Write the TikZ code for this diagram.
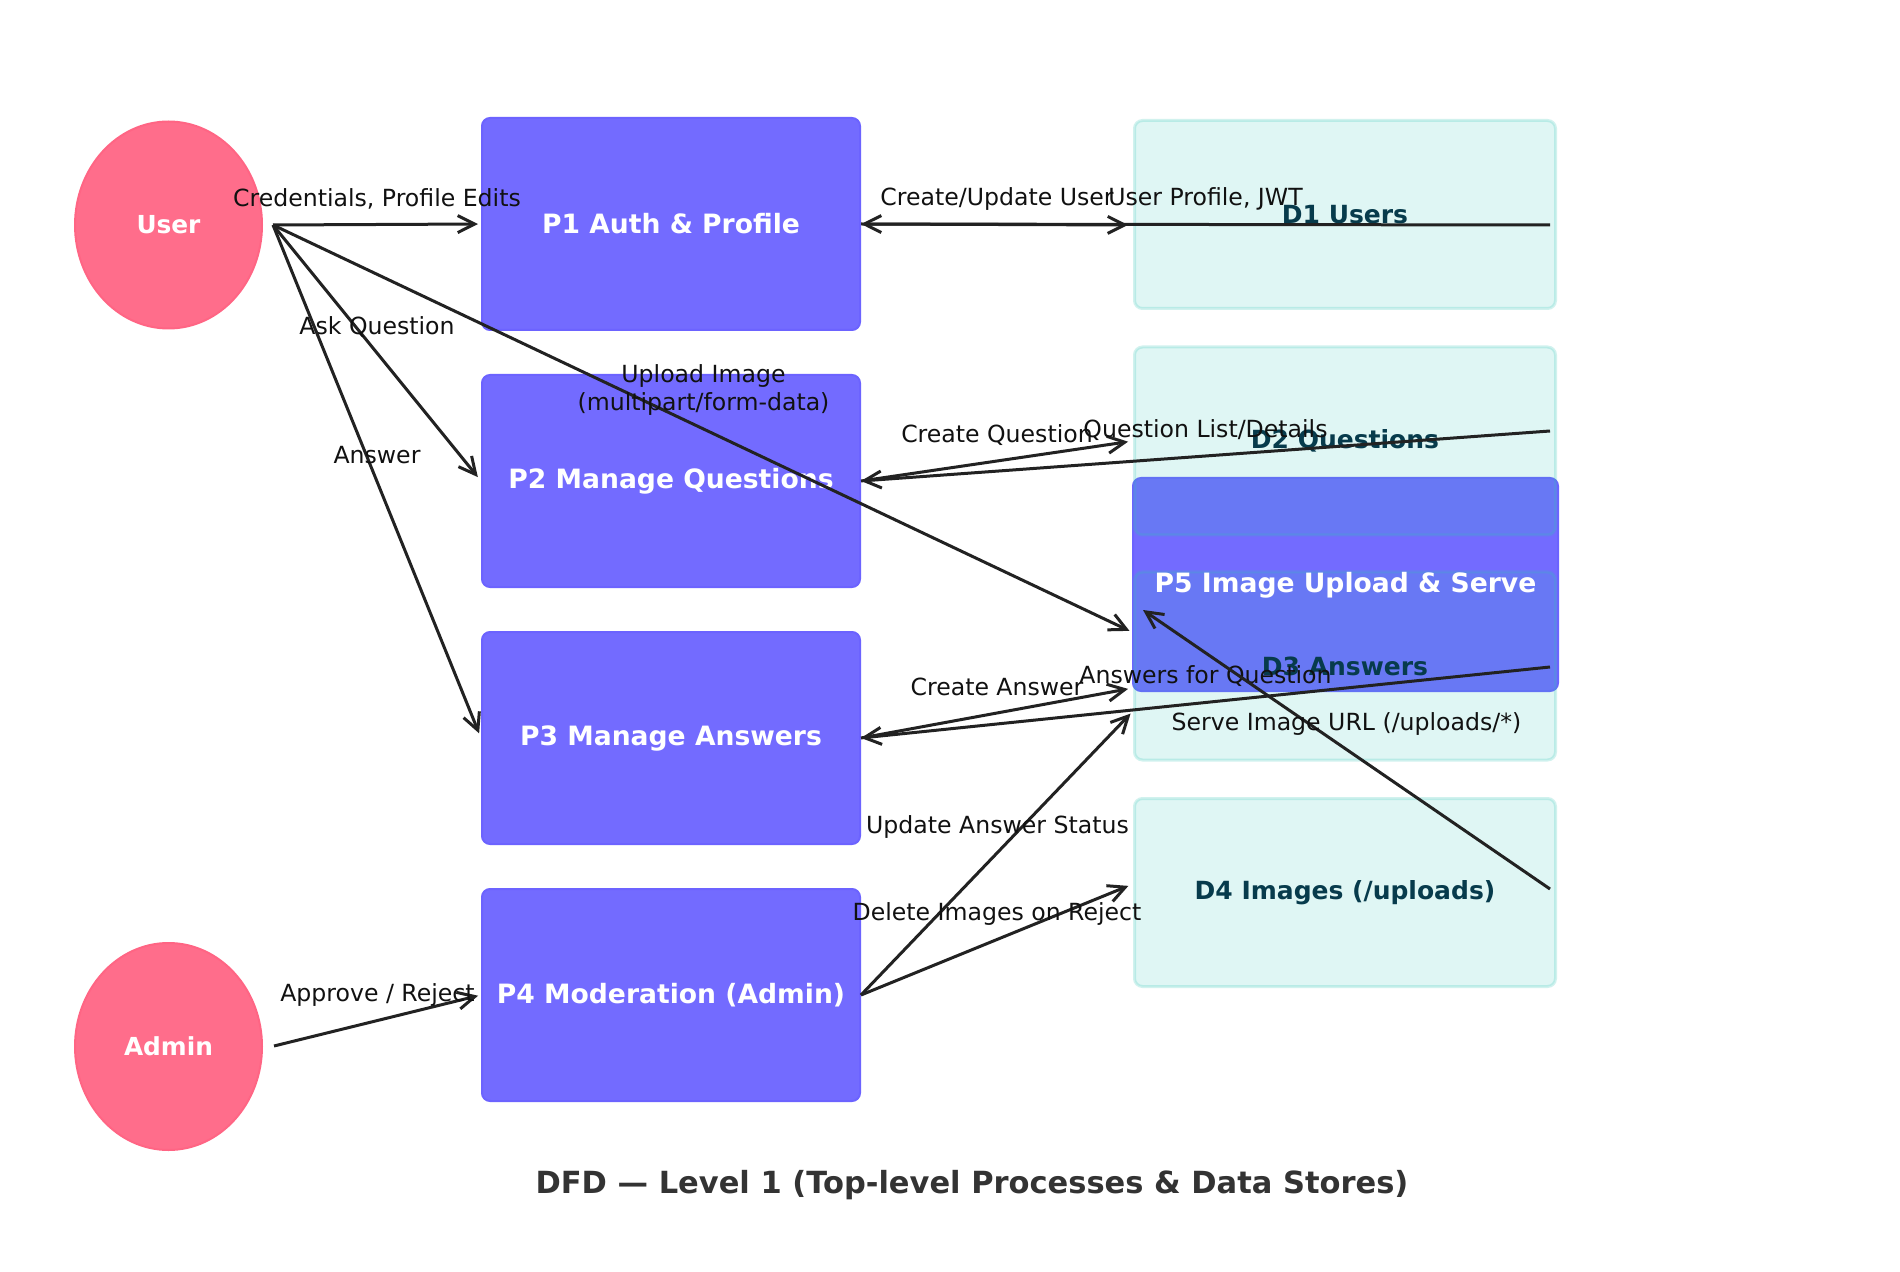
\documentclass[tikz,border=0pt]{standalone}
\usepackage{fontspec}
\setmainfont{DejaVu Sans}
\usetikzlibrary{arrows.meta,shapes.geometric,calc}
\definecolor{proc}{HTML}{736BFF}
\definecolor{procedge}{HTML}{6C63FF}
\definecolor{ent}{HTML}{FF6D8B}
\definecolor{entedge}{HTML}{FF6584}
\definecolor{store}{HTML}{2EC4B6}
\definecolor{storetext}{HTML}{073B4C}
\definecolor{flowc}{HTML}{222222}
\definecolor{labelc}{HTML}{111111}
\definecolor{titlec}{HTML}{333333}
\begin{document}
\begin{tikzpicture}[x=0.5pt,y=-0.5pt,
  entity/.style={ellipse, fill=ent, draw=entedge, line width=1pt, minimum width=93.5pt, minimum height=103.5pt, inner sep=0pt, text=white, font=\fontsize{12.4}{15}\selectfont\bfseries},
  procbox/.style={rectangle, rounded corners=4pt, fill=proc, draw=procedge, line width=1pt, minimum width=189pt, minimum height=106pt, inner sep=0pt, text=white, font=\fontsize{13.3}{16}\selectfont\bfseries},
  p5box/.style={procbox, minimum width=212.5pt, minimum height=106.5pt},
  p5text/.style={text=white, font=\fontsize{13.3}{16}\selectfont\bfseries, inner sep=0pt},
  storebox/.style={rectangle, rounded corners=4pt, fill=store, fill opacity=0.15, text opacity=1, draw=store, draw opacity=0.22, line width=1.5pt, minimum width=210.5pt, minimum height=94pt, inner sep=0pt, text=storetext, font=\fontsize{12.5}{15}\selectfont\bfseries},
  flow/.style={draw=flowc, line width=1.5pt, -{Straight Barb[length=8.5pt,width=8.5pt]}},
  lbl/.style={midway, yshift=13pt, inner sep=0pt, text=labelc, font=\fontsize{11.8}{14}\selectfont},
  lbltwo/.style={midway, yshift=19.5pt, inner sep=0pt, align=center, text=labelc, font=\fontsize{11.8}{14}\selectfont},
  titlestyle/.style={inner sep=0pt, text=titlec, font=\fontsize{15.25}{18}\selectfont\bfseries}
]
\useasboundingbox (0,0) rectangle (1900,1272);
\fill[white] (0,0) rectangle (1900,1272);

% external entities
\node[entity] (user) at (168.5,225) {User};
\node[entity] (admin) at (168.5,1046.5) {Admin};

% processes
\node[procbox] (p1) at (671,224) {P1 Auth \& Profile};
\node[procbox] (p2) at (671,481) {P2 Manage Questions};
\node[procbox] (p3) at (671,738) {P3 Manage Answers};
\node[procbox] (p4) at (671,995) {P4 Moderation (Admin)};
\node[p5box] (p5) at (1345.5,584.5) {};

% data stores
\node[storebox] (d1) at (1345,214.5) {D1 Users};
\node[storebox] (d2) at (1345,441) {D2 Questions};
\node[storebox] (d3) at (1345,666) {D3 Answers};
\node[storebox] (d4) at (1345,892.5) {D4 Images (/uploads)};
\node[p5text] (p5label) at ([yshift=-0.5pt]p5.center) {P5 Image Upload \& Serve};

% connector end points
\coordinate (uo) at (273,225);
\coordinate (ao) at (274,1046);
\coordinate (p5a) at (1134,633);
\coordinate (p5b) at (1143,610);
\coordinate (d1a) at (1133,225);
\coordinate (d1b) at (1550,225);
\coordinate (d2b) at (1550,431);
\coordinate (d3a) at (1133,688);
\coordinate (d3b) at (1550,667);
\coordinate (d3c) at (1134,710);
\coordinate (d4a) at (1133,884);
\coordinate (d4b) at (1550,889);

% flows
\draw[flow, shorten >=1.5pt] (uo) -- node[lbl]{Credentials, Profile Edits} (p1.west);
\draw[flow, shorten >=2.5pt] (uo) -- node[lbl]{Ask Question} (p2.west);
\draw[flow, shorten >=2.5pt] (uo) -- node[lbl]{Answer} (p3.west);
\draw[flow, shorten >=2.5pt] (uo) -- node[lbltwo]{Upload Image\\(multipart/form-data)} (p5a);
\draw[flow, shorten >=2.5pt] (p1.east) -- node[lbl]{Create/Update User} (d1a);
\draw[flow] (d1b) -- node[lbl]{User Profile, JWT} (p1.east);
\draw[flow, shorten >=2.5pt] (p2.east) -- node[lbl]{Create Question} (d2.west);
\draw[flow] (d2b) -- node[lbl]{Question List/Details} (p2.east);
\draw[flow, shorten >=2.5pt] (p3.east) -- node[lbl]{Create Answer} (d3a);
\draw[flow] (d3b) -- node[lbl]{Answers for Question} (p3.east);
\draw[flow, shorten >=2.5pt] (p4.east) -- node[lbl]{Update Answer Status} (d3c);
\draw[flow, shorten >=2.5pt] (p4.east) -- node[lbl]{Delete Images on Reject} (d4a);
\draw[flow] (d4b) -- node[lbl]{Serve Image URL (/uploads/*)} (p5b);
\draw[flow, shorten >=1.5pt] (ao) -- node[lbl]{Approve / Reject} (p4.west);

% title
\node[titlestyle] (title) at (972,1185) {DFD — Level 1 (Top-level Processes \& Data Stores)};
\end{tikzpicture}
\end{document}
